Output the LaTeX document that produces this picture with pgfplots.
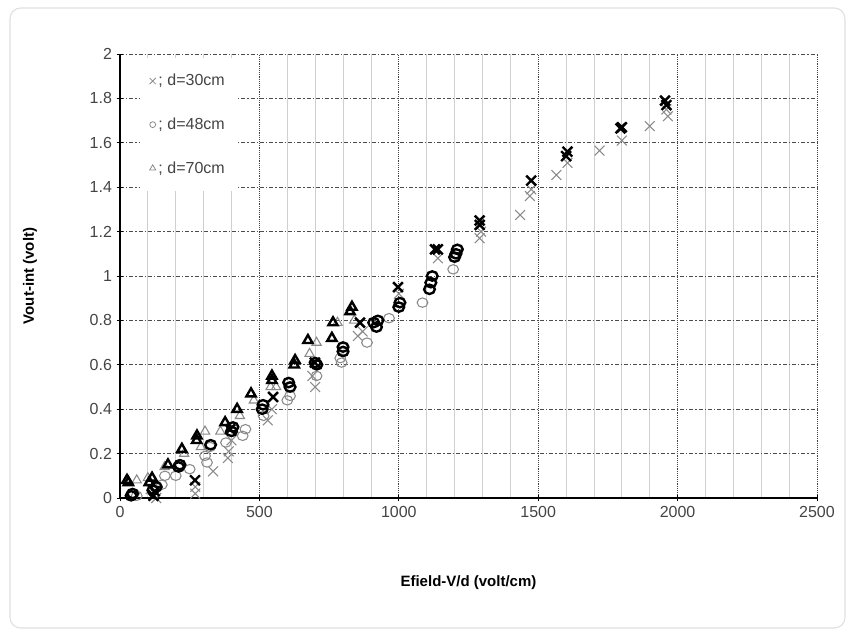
\documentclass[border=0pt]{standalone}
\usepackage{fontspec}
\setmainfont{Liberation Sans}
\usepackage{pgfplots}
\pgfplotsset{compat=1.18}
\definecolor{ticktext}{HTML}{444444}
\definecolor{lightmark}{HTML}{8A8A8A}
\definecolor{minorgrid}{HTML}{D0D0D0}
\begin{document}
\begin{tikzpicture}
\path[use as bounding box] (-90pt,-103.5pt) rectangle (549.75pt,373.5pt);
\draw[gray!25, line width=0.8pt, rounded corners=8pt] (-82.5pt,-97.5pt) rectangle (543.75pt,367.5pt);
\begin{axis}[
  name=ax, at={(0,0)}, anchor=south west,
  scale only axis, width=522.75pt, height=333pt,
  xmin=0, xmax=2500, ymin=0, ymax=2,
  axis lines=left, axis line style={-, black, line width=0.8pt},
  xtick={0,500,...,2500}, minor x tick num=4,
  ytick={0,0.2,...,2.01},
  tick align=center, major tick length=5pt, minor tick length=0pt,
  tick style={black, line width=0.6pt},
  xmajorgrids, xminorgrids, ymajorgrids,
  major x grid style={black!75, densely dotted, line width=0.7pt},
  minor x grid style={minorgrid, line width=0.6pt},
  major y grid style={black!70, dash pattern=on 3pt off 1.5pt on 1pt off 1.5pt, line width=0.7pt},
  /pgf/number format/assume math mode=true,
  yticklabel style={/pgf/number format/fixed, /pgf/number format/precision=1},
  xticklabel style={/pgf/number format/fixed, /pgf/number format/1000 sep={}},
  ticklabel style={font=\fontsize{12}{14}\selectfont, text=ticktext},
  xlabel={Efield-V/d (volt/cm)},
  ylabel={Vout-int (volt)},
  label style={font=\fontsize{11.25}{13}\selectfont\bfseries, text=black},
  xlabel style={at={(axis description cs:0.5,-0.1914)}, anchor=center},
  ylabel style={at={(axis description cs:-0.1291,0.5)}, anchor=center},
  legend style={draw=none, fill=white, at={(axis description cs:0.0287,0.991)}, anchor=north west,
    font=\fontsize{12}{14}\selectfont, text=ticktext, row sep=18.5pt, inner xsep=7pt, inner ysep=10pt,
    legend cell align=left},
  legend image post style={xshift=3pt},
  clip=false,
]
% d=30cm, light crosses
\addplot[only marks, mark=x, mark size=5.2pt, mark options={lightmark, line width=0.8pt}, forget plot] coordinates {
(1965,1.72) (1960,1.75) (1900,1.675) (1800,1.61) (1720,1.565) (1605,1.51) (1565,1.455)
(1470,1.36) (1475,1.39) (1435,1.275) (1290,1.17) (1295,1.20) (1140,1.08) (1000,0.92)
(853,0.73) (870,0.75) (700,0.50) (690,0.55) (530,0.35) (545,0.40) (387,0.18) (390,0.21) (400,0.26)
(334,0.12) (270,0.02) (270,0.05) (130,0.00) (110,0.04)
};
% d=48cm, light circles
\addplot[only marks, mark=o, mark size=3.5pt, mark options={lightmark, line width=0.8pt, xscale=1.15}, forget plot] coordinates {
(1195,1.03) (1085,0.88) (965,0.81) (886,0.70) (795,0.61) (790,0.63) (705,0.55) (610,0.46) (600,0.44)
(515,0.37) (450,0.31) (440,0.28) (380,0.25) (323,0.23) (312,0.16) (305,0.19) (250,0.13)
(200,0.10) (161,0.10) (150,0.06) (50,0.02) (60,0.01)
};
% d=70cm, light triangles
\addplot[only marks, mark=triangle, mark size=4pt, mark options={lightmark, line width=0.8pt}, forget plot] coordinates {
(840,0.80) (780,0.79) (705,0.70) (680,0.65) (560,0.50) (540,0.50) (480,0.44) (430,0.37)
(360,0.30) (305,0.30) (290,0.23) (230,0.20) (160,0.14) (100,0.09) (60,0.08)
};
% d=30cm, dark crosses
\addplot[only marks, mark=x, mark size=5.2pt, mark options={black, line width=1.8pt}, forget plot] coordinates {
(1960,1.77) (1955,1.79) (1800,1.67) (1795,1.665) (1605,1.56) (1600,1.54) (1475,1.43)
(1290,1.25) (1290,1.23) (1140,1.12) (1130,1.12) (997,0.95) (861,0.79) (699,0.61) (549,0.455)
(395,0.31) (269,0.08) (120,0.01) (125,0.03)
};
% d=48cm, dark circles
\addplot[only marks, mark=o, mark size=3.5pt, mark options={black, line width=1.8pt, xscale=1.15}, forget plot] coordinates {
(1210,1.12) (1205,1.10) (1200,1.085) (1120,1.00) (1115,0.97) (1110,0.94) (1004,0.88) (1000,0.86)
(925,0.80) (920,0.77) (910,0.79) (800,0.68) (800,0.66) (706,0.60) (700,0.61) (610,0.50)
(605,0.52) (513,0.42) (510,0.40) (405,0.32) (400,0.30) (325,0.24) (215,0.15) (210,0.14)
(130,0.05) (118,0.035) (45,0.02) (40,0.01)
};
% d=70cm, dark triangles
\addplot[only marks, mark=triangle, mark size=4pt, mark options={black, line width=1.8pt}, forget plot] coordinates {
(832,0.86) (825,0.84) (764,0.79) (760,0.72) (674,0.71) (628,0.62) (625,0.60) (545,0.55)
(545,0.53) (470,0.47) (420,0.40) (377,0.34) (276,0.28) (275,0.26) (222,0.22) (172,0.15)
(115,0.09) (105,0.07) (25,0.08) (30,0.07)
};
% legend entries
\addlegendimage{only marks, mark=x, mark size=3.3pt, mark options={lightmark, line width=0.6pt}}
\addlegendentry{; d=30cm}
\addlegendimage{only marks, mark=o, mark size=2.2pt, mark options={lightmark, line width=0.6pt}}
\addlegendentry{; d=48cm}
\addlegendimage{only marks, mark=triangle, mark size=2.6pt, mark options={lightmark, line width=0.6pt}}
\addlegendentry{; d=70cm}
\end{axis}
\end{tikzpicture}
\end{document}
